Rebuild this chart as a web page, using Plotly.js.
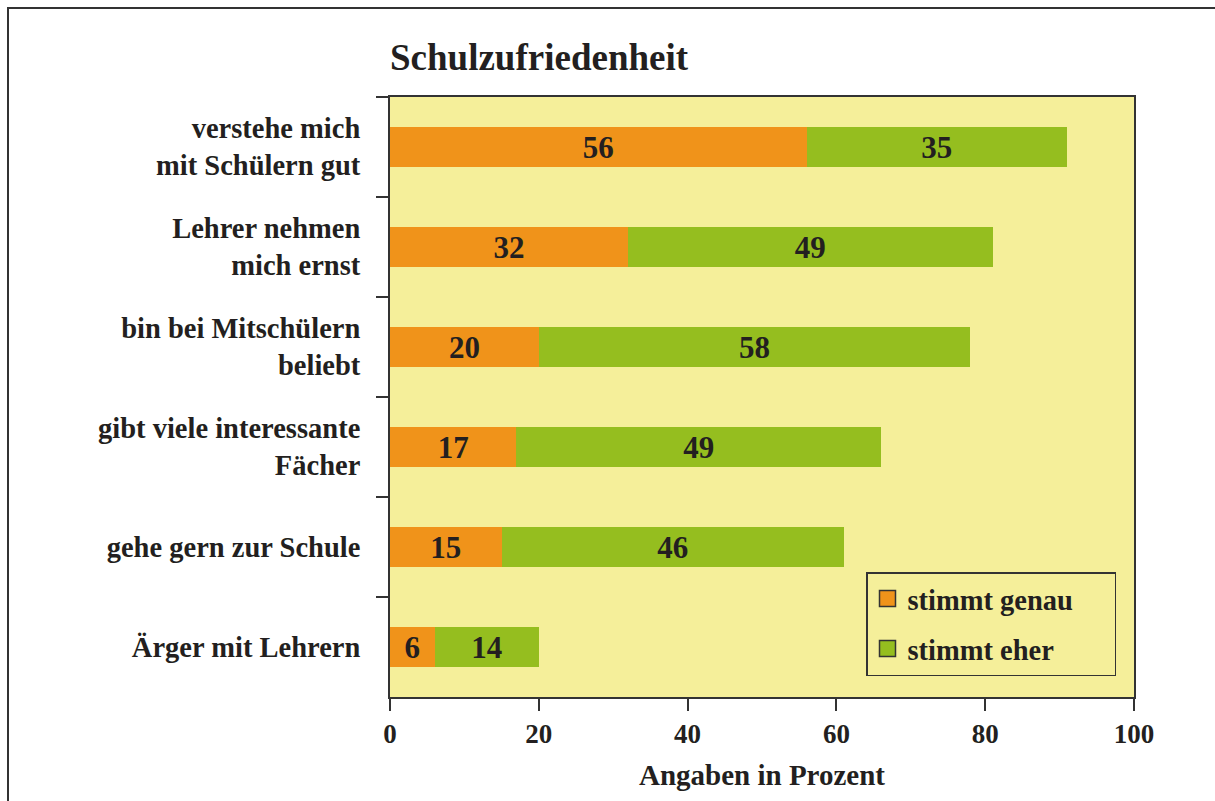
<!DOCTYPE html>
<html>
<head>
<meta charset="utf-8">
<script src="https://cdn.plot.ly/plotly-3.0.1.min.js"></script>
<style>
html,body{margin:0;padding:0;background:#fff;}
#wrap{position:relative;width:1215px;height:801px;}
#chart{position:absolute;left:0;top:0;width:1215px;height:801px;}
#frame{position:absolute;left:7px;top:7px;right:0;bottom:0;border-left:2px solid #333;border-top:2px solid #333;pointer-events:none;}
</style>
</head>
<body>
<div id="wrap"><div id="chart"></div><div id="frame"></div></div>
<script>
const categories = [
  "verstehe mich<br>mit Schülern gut",
  "Lehrer nehmen<br>mich ernst",
  "bin bei Mitschülern<br>beliebt",
  "gibt viele interessante<br>Fächer",
  "gehe gern zur Schule",
  "Ärger mit Lehrern"
];
const stimmtGenau = [56, 32, 20, 17, 15, 6];
const stimmtEher = [35, 49, 58, 49, 46, 14];
const seriesNames = ["stimmt genau", "stimmt eher"];
const xTicks = [0, 20, 40, 60, 80, 100];

const FONT = "'Liberation Serif', 'DejaVu Serif', serif";
const TXT = "#231f20";
const ORANGE = "#f0931a";
const GREEN = "#95be1f";
const BG = "#f5ef9a";
const PAD = "\u00a0\u00a0\u00a0\u00a0\u00a0";

const barCommon = {
  type: "bar", orientation: "h", width: 0.4,
  textposition: "inside", insidetextanchor: "middle",
  textangle: 0, constraintext: "none",
  textfont: {family: FONT, size: 31, color: TXT, weight: "bold"},
  showlegend: false, hoverinfo: "skip"
};

const traces = [
  Object.assign({}, barCommon, {x: stimmtGenau, y: categories, text: stimmtGenau.map(String), marker: {color: ORANGE, line: {width: 0}}, name: seriesNames[0]}),
  Object.assign({}, barCommon, {x: stimmtEher, y: categories, text: stimmtEher.map(String), marker: {color: GREEN, line: {width: 0}}, name: seriesNames[1]}),
  {type: "scatter", mode: "markers", x: [null], y: [null], name: seriesNames[0] + PAD, legendgroup: "a",
   marker: {symbol: "square", size: 20, color: ORANGE, line: {color: "#333", width: 1.5}}, hoverinfo: "skip"},
  {type: "scatter", mode: "markers", x: [null], y: [null], name: seriesNames[1], legendgroup: "b",
   marker: {symbol: "square", size: 20, color: GREEN, line: {color: "#333", width: 1.5}}, hoverinfo: "skip"}
];

const layout = {
  width: 1215, height: 801,
  margin: {l: 390, r: 81, t: 97, b: 104},
  paper_bgcolor: "#ffffff",
  plot_bgcolor: BG,
  barmode: "stack",
  font: {family: FONT, color: TXT, size: 28, weight: "bold"},
  title: {text: "Schulzufriedenheit", x: 390/1215, xref: "container", xanchor: "left",
          y: 1 - 57/801, yref: "container", yanchor: "middle",
          font: {family: FONT, size: 37, color: TXT, weight: "bold"}},
  xaxis: {
    range: [0, 100], tickvals: xTicks, ticktext: xTicks.map(String),
    showgrid: false, zeroline: false,
    showline: true, linecolor: "#333", linewidth: 2, mirror: true,
    ticks: "outside", ticklen: 12, tickwidth: 2, tickcolor: "#333",
    tickfont: {family: FONT, size: 27, color: TXT, weight: "bold"},
    title: {text: "Angaben in Prozent", standoff: 16, font: {family: FONT, size: 29, color: TXT, weight: "bold"}},
    fixedrange: true
  },
  yaxis: {
    type: "category", categoryorder: "array", categoryarray: categories,
    autorange: "reversed", range: [5.5, -0.5],
    tickson: "boundaries",
    showgrid: false, zeroline: false,
    showline: true, linecolor: "#333", linewidth: 2, mirror: true,
    ticks: "outside", ticklen: 12, tickwidth: 2, tickcolor: "#333",
    ticklabelstandoff: 22,
    tickfont: {family: FONT, size: 28.5, color: TXT, weight: "bold"},
    fixedrange: true
  },
  showlegend: true,
  legend: {
    x: (866-390)/744, xanchor: "left", y: (697-572)/600, yanchor: "top",
    bgcolor: BG, bordercolor: "#333", borderwidth: 1.5,
    font: {family: FONT, size: 28.5, color: TXT, weight: "bold"},
    traceorder: "grouped", tracegroupgap: 10,
    itemclick: false, itemdoubleclick: false
  }
};

Plotly.newPlot("chart", traces, layout, {displayModeBar: false, staticPlot: true});
</script>
</body>
</html>
